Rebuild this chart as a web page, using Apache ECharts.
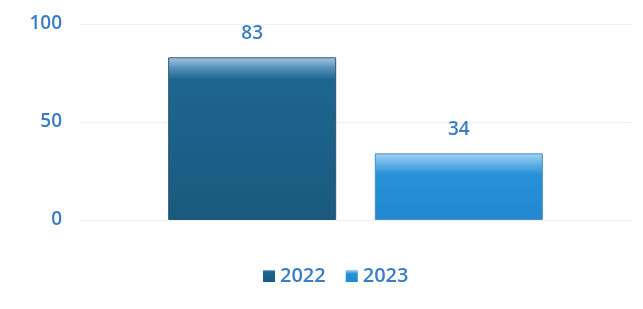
<!DOCTYPE html>
<html><head><meta charset="utf-8">
<script src="https://cdn.jsdelivr.net/npm/echarts@6/dist/echarts.min.js"></script>
<style>html,body{margin:0;padding:0;background:#fff}#c{width:643px;height:309px}</style>
</head><body><div id="c"></div>
<script>
const categories = [''];
const seriesNames = ['2022', '2023'];
const values2022 = [83];
const values2023 = [34];
const yTicks = [0, 50, 100];

const txt = '#3b7cc6';
const chart = echarts.init(document.getElementById('c'));
function grad(top, light, mid, dark, frac) {
  return new echarts.graphic.LinearGradient(0, 0, 0, 1, [
    {offset: 0, color: top},
    {offset: frac * 0.5, color: light},
    {offset: frac, color: mid},
    {offset: 1, color: dark}
  ]);
}
const font = {color: txt, fontSize: 19, fontFamily: 'Open Sans', fontWeight: 600};
chart.setOption({
  animation: false,
  grid: {left: 80, right: 12, top: 24, bottom: 89},
  legend: {
    bottom: 18, left: 258, icon: 'rect', itemWidth: 12, itemHeight: 12, itemGap: 20, itemStyle: {borderWidth: 0},
    textStyle: Object.assign({}, font, {fontSize: 20}),
    data: seriesNames
  },
  xAxis: {type: 'category', data: categories, axisLine: {show: false}, axisTick: {show: false}, axisLabel: {show: false}},
  yAxis: {
    type: 'value', min: yTicks[0], max: yTicks[yTicks.length - 1], interval: 50,
    axisLabel: Object.assign({margin: 18}, font),
    splitLine: {lineStyle: {color: '#f0f0f0'}}, axisLine: {show: false}, axisTick: {show: false}
  },
  series: [
    {name: seriesNames[0], type: 'bar', data: values2022, barWidth: 168, barGap: '23%',
     itemStyle: {color: grad('#a9c6e6', '#4f8db5', '#1d6590', '#1a5a7e', 0.14), borderColor: '#2a5670', borderWidth: 1},
     label: Object.assign({show: true, position: 'top', distance: 14}, font)},
    {name: seriesNames[1], type: 'bar', data: values2023, barWidth: 168,
     itemStyle: {color: grad('#a8d4f5', '#5fb0e6', '#2690d6', '#2288cf', 0.32), borderColor: '#4a8fc0', borderWidth: 1},
     label: Object.assign({show: true, position: 'top', distance: 14}, font)}
  ]
});
</script></body></html>
